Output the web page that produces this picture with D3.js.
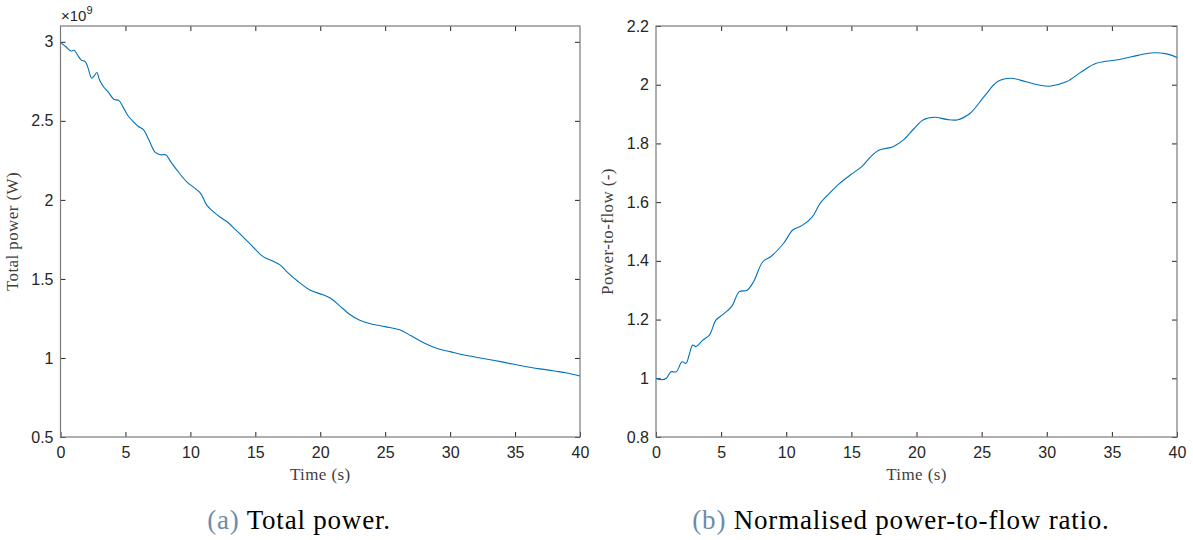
<!DOCTYPE html>
<html>
<head>
<meta charset="utf-8">
<script src="https://cdn.jsdelivr.net/npm/d3@7"></script>
<style>
  body { margin: 0; background: #fff; }
  .tick text { font-family: "Liberation Sans", Arial, sans-serif; font-size: 16px; fill: #262626; }
  .tick line { stroke: #262626; }
  .lbl { font-family: "Liberation Serif", "DejaVu Serif", serif; font-size: 17px; letter-spacing: 0.4px; fill: #404040; }
  .cap { font-family: "Liberation Serif", "DejaVu Serif", serif; font-size: 27px; letter-spacing: 0.8px; fill: #000; }
</style>
</head>
<body>
<svg id="fig" width="1193" height="540"></svg>
<script>
// (a) total power, values in units of 1e9 W
const timeA = [0, 0.4, 0.8, 1.05, 1.3, 1.6, 1.9, 2.1, 2.4, 2.6, 2.8, 3.0, 3.3, 3.7, 4.1, 4.5, 4.8,
  5.2, 5.6, 6.0, 6.4, 6.8, 7.3, 7.7, 8.1, 8.5, 9.0, 9.7, 10.4, 10.8, 11.25, 11.7, 12.3, 12.8,
  13.5, 14.5, 15.6, 16.3, 16.9, 17.5, 18.2, 19.2, 20.2, 20.8, 21.5, 22.2, 23.0, 23.8, 25.0,
  26.1, 27.0, 28.0, 29.0, 30.0, 31.0, 32.0, 34.0, 36.0, 38.0, 39.0, 40.0];
const powerA = [2.995, 2.97, 2.942, 2.946, 2.918, 2.884, 2.875, 2.84, 2.77, 2.785, 2.806, 2.76,
  2.717, 2.68, 2.637, 2.628, 2.59, 2.532, 2.495, 2.464, 2.443, 2.38, 2.30, 2.285, 2.285, 2.24,
  2.185, 2.116, 2.07, 2.04, 1.968, 1.93, 1.89, 1.863, 1.81, 1.73, 1.641, 1.615, 1.589, 1.54,
  1.49, 1.43, 1.40, 1.378, 1.33, 1.28, 1.24, 1.218, 1.198, 1.178, 1.14, 1.095, 1.06, 1.04,
  1.02, 1.005, 0.975, 0.943, 0.918, 0.905, 0.886];

// (b) normalised power-to-flow ratio
const timeB = [0, 0.4, 0.8, 1.15, 1.55, 2.0, 2.3, 2.55, 2.82, 3.07, 3.6, 4.1, 4.6, 5.1, 5.8,
  6.4, 7.0, 7.5, 8.2, 8.8, 9.8, 10.5, 11.2, 12.0, 12.6, 13.2, 14.1, 15.0, 15.8, 16.5, 17.1,
  18.2, 19.0, 19.8, 20.5, 21.4, 22.3, 23.1, 24.1, 25.2, 26.2, 27.2, 28.4, 29.5, 30.2, 31.5,
  32.7, 33.8, 35.6, 37.0, 38.2, 39.2, 40.0];
const ratioB = [1.0, 0.995, 1.0, 1.022, 1.022, 1.056, 1.051, 1.08, 1.113, 1.108, 1.13, 1.147,
  1.198, 1.216, 1.244, 1.295, 1.30, 1.33, 1.397, 1.414, 1.46, 1.505, 1.52, 1.55, 1.596, 1.625,
  1.664, 1.695, 1.721, 1.755, 1.777, 1.789, 1.812, 1.85, 1.88, 1.889, 1.882, 1.88, 1.902,
  1.96, 2.01, 2.022, 2.01, 1.998, 1.995, 2.01, 2.045, 2.073, 2.086, 2.10, 2.109, 2.105, 2.093];

const xTicks = [0, 5, 10, 15, 20, 25, 30, 35, 40];
const yTicksA = [0.5, 1, 1.5, 2, 2.5, 3];
const yTicksB = [0.8, 1, 1.2, 1.4, 1.6, 1.8, 2, 2.2];

const svg = d3.select("#fig");
const yTop = 26, yBottom = 437;

function panel(opt) {
  const x = d3.scaleLinear().domain([0, 40]).range([opt.left, opt.right]);
  const y = d3.scaleLinear().domain(opt.yDomain).range([yBottom, yTop]);
  const g = svg.append("g");

  const fmt = d => String(d);
  g.append("g").attr("transform", `translate(0,${yBottom})`)
    .call(d3.axisBottom(x).tickValues(xTicks).tickFormat(fmt).tickSizeInner(-5).tickSizeOuter(0).tickPadding(10));
  g.append("g").attr("transform", `translate(0,${yTop})`)
    .call(d3.axisTop(x).tickValues(xTicks.slice(1, -1)).tickFormat("").tickSizeInner(-5).tickSizeOuter(0));
  g.append("g").attr("transform", `translate(${opt.left},0)`)
    .call(d3.axisLeft(y).tickValues(opt.yTicks).tickFormat(fmt).tickSizeInner(-5).tickSizeOuter(0).tickPadding(7));
  g.append("g").attr("transform", `translate(${opt.right},0)`)
    .call(d3.axisRight(y).tickValues(opt.yTicks).tickFormat("").tickSizeInner(-5).tickSizeOuter(0));
  g.selectAll(".domain").remove();

  g.append("rect")
    .attr("x", opt.left).attr("y", yTop)
    .attr("width", opt.right - opt.left).attr("height", yBottom - yTop)
    .attr("fill", "none").attr("stroke", "#7a7a7a").attr("stroke-width", 1.2);

  const line = d3.line().x(d => x(d[0])).y(d => y(d[1])).curve(d3.curveCatmullRom.alpha(0.5));
  g.append("path")
    .datum(d3.zip(opt.t, opt.v))
    .attr("d", line)
    .attr("fill", "none").attr("stroke", "#0072BD").attr("stroke-width", 1.1);

  const cx = (opt.left + opt.right) / 2;
  g.append("text").attr("class", "lbl").attr("x", cx).attr("y", 480)
    .attr("text-anchor", "middle").text("Time (s)");
  g.append("text").attr("class", "lbl")
    .attr("transform", `translate(${opt.left - 43},${(yTop + yBottom) / 2}) rotate(-90)`)
    .attr("text-anchor", "middle").text(opt.yLabel);

  const cap = g.append("text").attr("class", "cap").attr("x", opt.capX).attr("y", 529)
    .attr("text-anchor", "middle");
  cap.append("tspan").attr("fill", "#6d8bab").text(opt.capTag + " ");
  cap.append("tspan").text(opt.caption);
  return g;
}

const gA = panel({
  left: 60.5, right: 580, yDomain: [0.5, 3.1], yTicks: yTicksA,
  t: timeA, v: powerA, yLabel: "Total power (W)",
  capX: 299, capTag: "(a)", caption: "Total power."
});
const expo = gA.append("text").attr("x", 61).attr("y", 21)
  .style("font-family", "Liberation Sans, Arial, sans-serif").style("font-size", "15px").attr("fill", "#262626");
expo.append("tspan").text("×10");
expo.append("tspan").attr("dy", -7).style("font-size", "11px").text("9");

panel({
  left: 656, right: 1177, yDomain: [0.8, 2.2], yTicks: yTicksB,
  t: timeB, v: ratioB, yLabel: "Power-to-flow (-)",
  capX: 901, capTag: "(b)", caption: "Normalised power-to-flow ratio."
});
</script>
</body>
</html>
